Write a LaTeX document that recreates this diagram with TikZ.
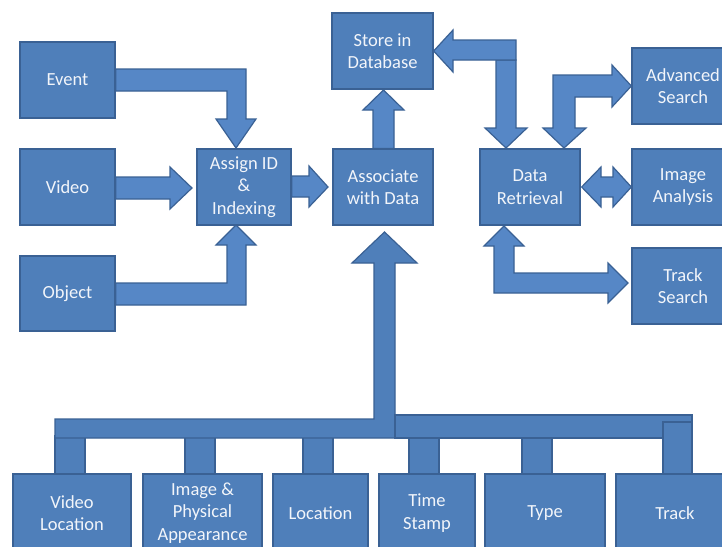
\documentclass[tikz,border=0pt]{standalone}
\usepackage{fontspec}
\setmainfont{Carlito}
\definecolor{boxfill}{HTML}{4F7FBA}
\definecolor{arrfill}{HTML}{5687C6}
\definecolor{edge}{HTML}{3A6194}
\definecolor{txt}{HTML}{F2F5FA}
\tikzset{
  blk/.style={draw=edge, line width=1.3pt, fill=boxfill, text=txt, align=center,
    font=\fontsize{18.5}{22.5}\selectfont, inner sep=1pt},
  barrow/.style={draw=edge, line width=1.2pt, fill=arrfill, line join=miter},
  busbar/.style={draw=edge, line width=1.2pt, fill=boxfill}
}
\begin{document}
\begin{tikzpicture}[x=1pt,y=-1pt]
\clip (0,0) rectangle (722,546);
\fill[white] (0,0) rectangle (722,546);

% left column
\node[blk, minimum width=95pt, minimum height=76pt] (event) at (67.5,80) {Event};
\node[blk, minimum width=95pt, minimum height=76pt] (video) at (67.5,187) {Video};
\node[blk, minimum width=95pt, minimum height=75pt] (object) at (67.5,293.5) {Object};
\node[blk, minimum width=94pt, minimum height=76pt] (assign) at (244,187) {Assign ID\\\&\\Indexing};
\node[blk, minimum width=100pt, minimum height=76pt] (assoc) at (383,187) {Associate\\with Data};
\node[blk, minimum width=101pt, minimum height=76pt] (store) at (382.5,51) {Store in\\Database};
\node[blk, minimum width=100pt, minimum height=76pt] (retr) at (530,187) {Data\\Retrieval};
\node[blk, minimum width=102pt, minimum height=76pt] (adv) at (683,86) {Advanced\\Search};
\node[blk, minimum width=102pt, minimum height=76pt] (imga) at (683,187) {Image\\Analysis};
\node[blk, minimum width=102pt, minimum height=76pt] (tsearch) at (683,286) {Track\\Search};

% arrows into Assign
\filldraw[barrow] (event.east |- 0,69) -- (246,69) -- (246,119) -- (256,119) -- (236,148)
  -- (216,119) -- (227,119) -- (227,91) -- (event.east |- 0,91) -- cycle;
\filldraw[barrow] (video.east |- 0,177) -- (170,177) -- (170,167) -- (192,188) -- (170,209)
  -- (170,199) -- (video.east |- 0,199) -- cycle;
\filldraw[barrow] (object.east |- 0,283) -- (227,283) -- (227,245) -- (216,245) -- (236,225)
  -- (256,245) -- (246,245) -- (246,305) -- (object.east |- 0,305) -- cycle;
% Assign -> Associate
\filldraw[barrow] (assign.east |- 0,176) -- (309,176) -- (309,166) -- (328,187) -- (309,207)
  -- (309,197) -- (assign.east |- 0,197) -- cycle;
% Associate -> Store
\filldraw[barrow] (assoc.north -| 373,0) -- (373,110) -- (363,110) -- (383.5,90) -- (404,110)
  -- (394,110) -- (assoc.north -| 394,0) -- cycle;
% Retrieval <-> Store
\filldraw[barrow] (496,60) -- (516,60) -- (516,128) -- (527,128) -- (506,148) -- (485,128)
  -- (496,128) -- cycle;
\filldraw[barrow] (516,40) -- (516,60) -- (453,60) -- (453,72) -- (store.east |- 0,51)
  -- (453,30) -- (453,40) -- cycle;
% Retrieval <-> Advanced
\filldraw[barrow] (564,148) -- (543,128) -- (553,128) -- (553,75) -- (612,75) -- (612,65)
  -- (adv.west) -- (612,107) -- (612,97) -- (575,97) -- (575,128) -- (586,128) -- cycle;
% Retrieval <-> Image Analysis
\filldraw[barrow] ([xshift=1pt]retr.east) -- (601,167) -- (601,177) -- (613,177) -- (613,167)
  -- (imga.west) -- (613,207) -- (613,197) -- (601,197) -- (601,207) -- cycle;
% Retrieval <-> Track Search
\filldraw[barrow] (504,226) -- (524,246) -- (514,246) -- (514,273) -- (608,273) -- (608,263)
  -- (628,283) -- (608,303) -- (608,293) -- (494,293) -- (494,246) -- (484,246) -- cycle;

% bus drops
\foreach \a/\b in {55/85,185/215,303/333,409/439,522/552}
  \filldraw[busbar] (\a,436) rectangle (\b,474);
% bus with big up arrow
\filldraw[busbar] (55,419) -- (374,419) -- (374,263) -- (352,263) -- (384.5,232) -- (417,263)
  -- (395,263) -- (395,438) -- (55,438) -- cycle;
\filldraw[busbar] (395,415) rectangle (692,438);
\filldraw[busbar] (663,422) rectangle (692,474);

% bottom boxes
\node[blk, minimum width=118pt, minimum height=78pt] (vloc) at (72,513) {Video\\Location};
\node[blk, minimum width=119pt, minimum height=78pt] (imgp) at (202.5,513) {Image \&\\Physical\\Appearance};
\node[blk, minimum width=95pt, minimum height=78pt] (loc) at (320.5,513) {Location};
\node[blk, minimum width=96pt, minimum height=78pt] (tstamp) at (427,513) {Time\\Stamp};
\node[blk, minimum width=120pt, minimum height=78pt] (type) at (545,513) {Type};
\node[blk, minimum width=118pt, minimum height=78pt] (track) at (675,513) {Track};
\end{tikzpicture}
\end{document}
